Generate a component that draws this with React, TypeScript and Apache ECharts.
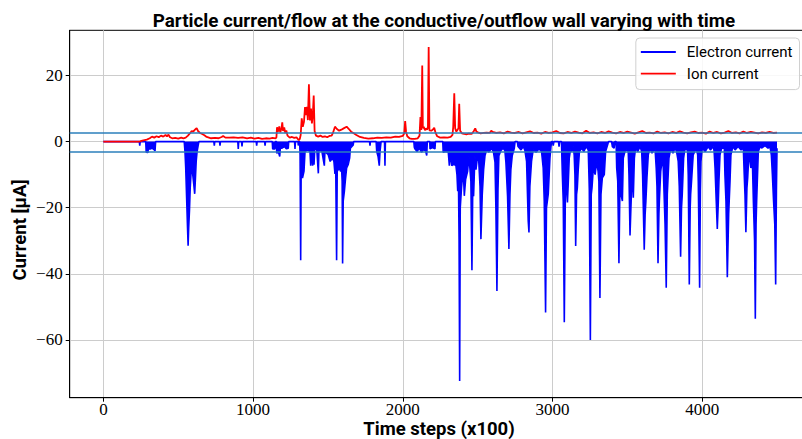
import React, { useEffect, useRef } from "react";
import * as echarts from "echarts";

// Chart texts
const chartTitle = "Particle current/flow at the conductive/outflow wall varying with time";
const xAxisTitle = "Time steps (x100)";
const yAxisTitle = "Current [\u03bcA]";
const electronName = "Electron current";
const ionName = "Ion current";

// Tick positions
const xTicks = [0, 1000, 2000, 3000, 4000];
const yTicks = [-60, -40, -20, 0, 20];

// Horizontal reference levels [µA]
const refLevels = [2.6, -3.15];

// Electron current [time step (x100), µA]
const electronCurrent: [number, number][] = [
  [0, 0], [240, 0], [243, -1.2], [246, 0],
  [283, 0], [286, -3.2], [298, -3.3], [302, -0.8], [308, -2.3], [325, -2.0], [338, -2.4], [345, -2.8], [349, 0],
  [540, 0], [545, -3], [550, -8], [556, -17], [562, -26], [566, -31.5], [570, -26], [575, -21], [580, -14], [585, -10],
  [590, -7], [597, -10], [604, -13], [610, -15.8], [615, -11], [620, -6], [626, -3], [633, -1.2], [638, 0],
  [738, 0], [741, -1.2], [744, 0],
  [776, 0], [779, -1.2], [782, 0],
  [898, 0], [901, -2.2], [904, 0],
  [923, 0], [926, -1.5], [929, 0],
  [1021, 0], [1024, -1.2], [1027, 0],
  [1077, 0], [1080, -1.2], [1083, 0],
  [1128, 0], [1131, -2.2], [1146, -2.2], [1149, 0],
  [1156, 0], [1158, -3.5], [1170, -3.2], [1178, -4.5], [1182, -2], [1191, -2], [1210, -1.5], [1222, -2.2], [1235, -2], [1238, 0],
  [1277, 0], [1280, -2.2], [1283, 0],
  [1300, 0], [1302, -1.2], [1305, 0],
  [1311, 0], [1314, -4], [1318, -35.9], [1321, -10], [1330, -11], [1340, -9], [1347, -3], [1365, -2.5], [1380, -3],
  [1385, -7.3], [1390, -2.5], [1398, -7.3], [1402, -3], [1407, -7], [1412, -2.5], [1425, -2], [1436, -9.6], [1440, -2.5],
  [1460, -3], [1476, -7.3], [1480, -3], [1502, -4], [1515, -6], [1530, -5], [1540, -6], [1547, -9.8], [1552, -7],
  [1558, -35.9], [1562, -9], [1575, -8], [1585, -9], [1591, -8], [1595, -12], [1598, -36.9], [1602, -18], [1610, -15],
  [1618, -11], [1625, -8], [1635, -7], [1645, -5], [1650, -2], [1660, -1.5], [1669, -1], [1672, 0],
  [1778, 0], [1781, -1.2], [1784, 0],
  [1822, 0], [1826, -3], [1835, -4.5], [1843, -7.3], [1848, -3], [1855, 0],
  [1878, 0], [1881, -7.3], [1884, 0],
  [2074, 0], [2077, -1.7], [2081, -2.2], [2095, -3.0], [2110, -2.0], [2125, -3.2], [2140, -2.4], [2152, -2.8], [2160, -4.2], [2164, 0],
  [2180, 0], [2182, -2.2], [2198, -1.8], [2215, -2.2], [2218, 0],
  [2267, 0], [2270, -3.2], [2290, -3.0], [2304, -3.2], [2311, -7.3], [2318, -3.5], [2327, -7.3], [2340, -6.8], [2355, -7.3],
  [2362, -10], [2367, -15], [2372, -12], [2376, -29.5], [2380, -72.4], [2384, -20], [2393, -13.6], [2404, -8.5], [2411, -16.4],
  [2420, -11.4], [2433, -9], [2442, -4.3], [2455, -12], [2462, -38.9], [2467, -16], [2473, -16.5], [2482, -4.3], [2489, -8.5],
  [2504, -2.7], [2516, -13.6], [2522, -29.5], [2531, -16], [2540, -8.5], [2549, -4.3], [2560, -2.5], [2575, -3.2], [2593, -2.0],
  [2605, -3], [2616, -6.2], [2622, -20], [2629, -45.2], [2636, -14.5], [2642, -4.3], [2656, -2.7], [2670, -2.0], [2682, -2.7],
  [2689, -6.3], [2700, -16.5], [2709, -32.5], [2716, -16], [2722, -8.5], [2731, -4.3], [2745, -2.0], [2750, 0],
  [2765, 0], [2770, -1.5], [2790, -2.5], [2805, -1.5], [2816, -2.7], [2827, -6], [2838, -24], [2843, -27.5], [2849, -13.6],
  [2860, -6], [2871, -2.5], [2890, -3.2], [2910, -2.2], [2927, -3.0], [2938, -8], [2945, -18], [2954, -51.7], [2960, -20],
  [2972, -15.8], [2983, -5], [2990, -1.5], [2994, 0],
  [3000, 0], [3005, -1.2], [3010, 0], [3040, 0], [3044, -1.5], [3048, 0],
  [3060, 0], [3066, -10], [3072, -18], [3079, -54.6], [3086, -16], [3094, -14], [3100, -18.4], [3106, -12], [3112, -5],
  [3120, -2.5], [3130, -3], [3139, -1.5], [3145, -4], [3150, -10], [3155, -31.6], [3161, -16], [3166, -14], [3172, -8.5],
  [3180, -3], [3195, -2], [3210, -3], [3225, -1.5], [3239, -2.5], [3246, -14.5], [3253, -60], [3259, -16], [3264, -14],
  [3273, -8], [3285, -10], [3295, -6], [3305, -9], [3310, -12], [3317, -47.3], [3324, -16], [3333, -11], [3346, -10],
  [3355, -3], [3365, -1.5], [3375, 0], [3395, 0], [3400, -1.5], [3412, -2], [3417, 0],
  [3425, 0], [3429, -8], [3436, -12], [3444, -36.8], [3451, -12], [3458, -16], [3467, -18], [3473, -5], [3484, -3],
  [3495, -2.5], [3506, -3], [3511, -10], [3518, -28.4], [3524, -20], [3529, -13.6], [3535, -10], [3540, -17], [3547, -5],
  [3555, -2], [3570, -3], [3585, -1.5], [3596, -3], [3602, -10], [3613, -32.7], [3619, -22], [3624, -18], [3631, -11],
  [3640, -4], [3651, -2], [3665, -3.5], [3685, -2], [3693, -8], [3698, -13.6], [3705, -36.8], [3711, -22], [3714, -18],
  [3723, -9], [3734, -5], [3740, -8], [3745, -15], [3752, -25], [3760, -44.2], [3767, -16], [3778, -5], [3790, -2],
  [3805, -3.5], [3818, -2], [3829, -3], [3840, -6], [3847, -13.6], [3856, -34.8], [3862, -20], [3867, -16], [3876, -5],
  [3885, -2], [3895, -2.5], [3902, -2], [3907, -10], [3914, -43.2], [3920, -20], [3923, -16], [3929, -12], [3940, -4],
  [3951, -3], [3960, -2], [3970, -4], [3974, -12], [3983, -44.2], [3988, -15], [3992, -6], [4000, -2], [4020, -3],
  [4040, -1.5], [4055, -2.5], [4075, -1.5], [4080, -3], [4086, -8], [4094, -18], [4101, -26.4], [4108, -18], [4112, -12],
  [4119, -4], [4130, -2], [4148, -2], [4152, -10], [4159, -18], [4168, -41], [4177, -22], [4186, -12], [4192, -4],
  [4205, -1.5], [4220, -2.5], [4240, -1.5], [4260, -2.5], [4275, -2], [4281, -10], [4286, -16], [4292, -27.4], [4299, -14],
  [4304, -11], [4313, -3], [4325, -8], [4335, -5], [4342, -18], [4350, -30], [4355, -53.6], [4360, -25], [4364, -18],
  [4375, -3], [4390, -1.2], [4397, -2], [4420, -1.2], [4440, -2], [4453, -1.5], [4462, -4], [4469, -10], [4477, -18],
  [4485, -25], [4491, -43.2], [4496, -15], [4500, -2],
];

// Ion current [time step (x100), µA]
const ionCurrent: [number, number][] = [
  [0, 0], [240, 0], [260, 0.3], [290, 0.6], [310, 1.0], [325, 1.5], [340, 1.2], [355, 1.6], [370, 1.3], [385, 1.8],
  [400, 1.5], [415, 2.0], [425, 1.6], [435, 2.1], [445, 1.3], [460, 1.0], [480, 1.1], [500, 0.9], [520, 1.2], [535, 1.0],
  [550, 1.2], [565, 1.8], [580, 2.6], [590, 3.2], [600, 3.0], [612, 3.6], [623, 4.1], [632, 3.2], [645, 2.6], [660, 2.3],
  [675, 1.9], [690, 1.4], [705, 1.2], [720, 1.0], [745, 1.1], [770, 1.0], [790, 1.4], [800, 1.7], [815, 1.2], [840, 1.2],
  [870, 1.3], [900, 1.1], [930, 1.3], [960, 1.0], [985, 1.2], [1010, 0.9], [1035, 1.1], [1060, 0.8], [1085, 1.0],
  [1110, 0.9], [1130, 1.1], [1150, 1.0], [1156, 1.3], [1160, 4.3], [1168, 3.0], [1175, 4.6], [1182, 2.8], [1190, 4.0],
  [1195, 5.8], [1200, 3.2], [1208, 4.3], [1215, 2.6], [1222, 3.4], [1230, 1.8], [1245, 1.2], [1260, 1.4], [1275, 1.1],
  [1290, 1.3], [1305, 0.4], [1312, 0.8], [1318, 2.0], [1325, 7.0], [1332, 4.5], [1340, 6.0], [1347, 10.4], [1355, 8.0],
  [1360, 10.5], [1366, 6.5], [1373, 17.3], [1380, 6.4], [1387, 10.0], [1393, 5.5], [1399, 8.0], [1405, 13.9], [1411, 3.2],
  [1420, 1.8], [1435, 1.5], [1450, 1.8], [1465, 1.4], [1480, 1.6], [1495, 1.3], [1510, 1.7], [1525, 1.8], [1535, 2.8],
  [1547, 4.5], [1560, 3.8], [1575, 3.3], [1590, 3.6], [1605, 4.0], [1625, 4.5], [1640, 3.8], [1655, 3.0], [1670, 2.6],
  [1690, 2.0], [1714, 1.4], [1740, 1.1], [1770, 0.9], [1800, 1.0], [1830, 1.2], [1860, 1.1], [1890, 1.3], [1920, 1.2],
  [1950, 1.5], [1975, 1.4], [2000, 1.7], [2010, 2.5], [2016, 6.2], [2022, 3.0], [2030, 1.6], [2045, 1.0], [2060, 0.8],
  [2080, 0.8], [2100, 1.0], [2112, 1.8], [2118, 7.4], [2124, 3.5], [2130, 23.0], [2134, 4.0], [2140, 4.5], [2148, 3.4],
  [2155, 4.0], [2162, 3.6], [2168, 4.2], [2173, 28.6], [2178, 3.4], [2190, 3.3], [2200, 3.6], [2210, 4.2], [2218, 2.8],
  [2230, 1.6], [2250, 1.2], [2275, 1.3], [2300, 1.2], [2320, 1.4], [2332, 2.0], [2337, 4.4], [2344, 14.6], [2350, 4.0],
  [2358, 3.0], [2366, 3.6], [2372, 4.0], [2377, 11.4], [2383, 3.3], [2395, 2.5], [2410, 2.3], [2425, 2.2], [2440, 2.4],
  [2460, 2.3], [2475, 3.2], [2484, 4.0], [2492, 3.0], [2502, 2.8], [2520, 2.5], [2540, 2.6], [2560, 2.7], [2580, 2.6],
  [2591, 3.3], [2600, 2.9], [2625, 2.6], [2650, 2.8], [2675, 2.5], [2700, 3.0], [2725, 2.7], [2750, 2.6], [2775, 2.9],
  [2800, 2.5], [2825, 2.8], [2850, 3.1], [2875, 2.6], [2900, 2.7], [2925, 2.4], [2950, 2.9], [2975, 2.6], [3000, 2.8],
  [3025, 3.2], [3050, 2.6], [3075, 2.5], [3100, 2.9], [3125, 2.6], [3150, 3.0], [3175, 2.7], [3200, 2.5], [3225, 3.3],
  [3250, 2.6], [3275, 2.8], [3300, 2.5], [3325, 2.9], [3350, 2.6], [3375, 3.1], [3400, 2.7], [3425, 2.5], [3450, 2.9],
  [3475, 2.6], [3500, 3.0], [3525, 2.7], [3550, 2.4], [3575, 2.8], [3600, 3.2], [3625, 2.6], [3650, 2.7], [3675, 2.5],
  [3700, 3.0], [3725, 2.6], [3750, 2.8], [3775, 2.5], [3800, 2.9], [3825, 2.6], [3850, 3.1], [3875, 2.7], [3900, 2.5],
  [3925, 2.8], [3950, 3.0], [3975, 2.6], [4000, 2.7], [4025, 2.4], [4050, 3.0], [4075, 2.6], [4100, 2.9], [4125, 2.5],
  [4150, 2.7], [4175, 3.2], [4200, 2.6], [4225, 2.8], [4250, 2.5], [4275, 3.0], [4300, 2.6], [4325, 2.9], [4350, 2.7],
  [4375, 2.5], [4400, 2.8], [4425, 2.6], [4450, 2.9], [4475, 2.6], [4500, 2.7],
];

const SANS = "Roboto, 'Liberation Sans', sans-serif";
const SERIF = "'Liberation Serif', 'DejaVu Serif', serif";

const fmtTick = (v: number) => (v < 0 ? "\u2212" + Math.abs(v) : String(v));

export default function App() {
  const ref = useRef<HTMLDivElement>(null);

  useEffect(() => {
    if (!ref.current) return;
    const chart = echarts.init(ref.current, undefined, { renderer: "svg" });
    const axisTitleStyle = {
      fontFamily: SANS,
      fontWeight: "bold",
      fontSize: 18.5,
      lineHeight: 18,
      fill: "#000",
      align: "center",
      verticalAlign: "middle",
    };
    chart.setOption({
      animation: false,
      backgroundColor: "#ffffff",
      title: {
        text: chartTitle,
        left: 439,
        top: 6,
        textAlign: "center",
        textStyle: { fontFamily: SANS, fontWeight: "bold", fontSize: 18.8, color: "#000" },
      },
      graphic: [
        {
          type: "text",
          x: 20,
          y: 230,
          rotation: Math.PI / 2,
          style: { ...axisTitleStyle, text: yAxisTitle },
        },
        {
          type: "text",
          x: 439,
          y: 428.5,
          style: { ...axisTitleStyle, text: xAxisTitle },
        },
      ],
      grid: {
        left: 69.7,
        right: -8.7,
        top: 30.3,
        bottom: 41.3,
        show: true,
        borderColor: "#000",
        borderWidth: 1,
        backgroundColor: "transparent",
        outerBoundsMode: "none",
      },
      legend: {
        data: [electronName, ionName],
        orient: "vertical",
        right: 2.5,
        top: 38,
        padding: [6, 7, 8, 5],
        icon: "rect",
        itemWidth: 35,
        itemHeight: 1.8,
        itemGap: 5.6,
        backgroundColor: "rgba(255,255,255,0.85)",
        borderColor: "#d0d0d0",
        borderWidth: 1,
        borderRadius: 4,
        textStyle: { fontFamily: SANS, fontSize: 15, lineHeight: 16, color: "#000", padding: [0, 0, 0, 6] },
      },
      xAxis: {
        type: "value",
        min: -225,
        max: 4725,
        axisLine: { show: true, onZero: false, lineStyle: { color: "#000", width: 1 } },
        axisTick: { show: true, customValues: xTicks, length: 4, lineStyle: { color: "#000" } },
        axisLabel: {
          customValues: xTicks,
          formatter: fmtTick,
          fontFamily: SERIF,
          fontSize: 17,
          lineHeight: 14,
          color: "#000",
          margin: 5,
        },
        splitLine: { show: true, lineStyle: { color: "#cccccc", width: 1 } },
      },
      yAxis: {
        type: "value",
        min: -77.45,
        max: 33.65,
        axisLine: { show: true, onZero: false, lineStyle: { color: "#000", width: 1 } },
        axisTick: { show: true, customValues: yTicks, length: 4, lineStyle: { color: "#000" } },
        axisLabel: {
          customValues: yTicks,
          formatter: fmtTick,
          fontFamily: SERIF,
          fontSize: 17,
          color: "#000",
          margin: 7,
        },
        splitLine: { show: true, lineStyle: { color: "#cccccc", width: 1 } },
      },
      series: [
        {
          name: electronName,
          type: "line",
          data: electronCurrent,
          symbol: "none",
          showSymbol: false,
          lineStyle: { color: "#0000ff", width: 1.6 },
          itemStyle: { color: "#0000ff" },
          areaStyle: { color: "#0000ff", opacity: 1 },
          z: 2,
        },
        {
          name: ionName,
          type: "line",
          data: ionCurrent,
          symbol: "none",
          showSymbol: false,
          lineStyle: { color: "#ff0000", width: 1.8 },
          itemStyle: { color: "#ff0000" },
          z: 3,
        },
        {
          type: "line",
          data: [],
          z: 4,
          markLine: {
            silent: true,
            symbol: "none",
            label: { show: false },
            lineStyle: { color: "#2b7fbb", width: 1.5, type: "solid" },
            data: refLevels.map((v) => ({ yAxis: v })),
          },
        },
      ],
    });
    return () => chart.dispose();
  }, []);

  return (
    <div
      ref={ref}
      style={{ position: "absolute", left: 0, top: 0, width: 802, height: 439 }}
    />
  );
}
